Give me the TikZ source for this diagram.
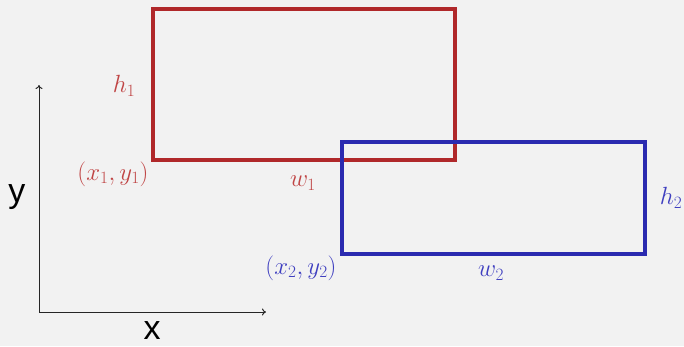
\documentclass[tikz,border=0pt]{standalone}
\usepackage{fontspec}
\usetikzlibrary{arrows.meta}
\newfontfamily\axisfont{Liberation Sans}
\definecolor{bg}{HTML}{F2F2F2}
\definecolor{rline}{HTML}{B0282A}
\definecolor{rtext}{HTML}{C04545}
\definecolor{bline}{HTML}{2B2BB0}
\definecolor{btext}{HTML}{3F3FC0}
\begin{document}
\begin{tikzpicture}[x=1pt,y=-1pt,
  rectbox/.style={draw,line width=4pt,inner sep=0pt,outer sep=0pt},
  mlabel/.style={inner sep=0pt,font=\fontsize{23}{27}\selectfont},
  alabel/.style={inner sep=0pt,font=\axisfont\fontsize{34}{40}\selectfont},
  axis/.style={line width=1pt,draw=black!85,-{To[length=4pt,width=7pt]}}]
\fill[bg] (0,0) rectangle (684,346);
\useasboundingbox (0,0) rectangle (684,346);
% rectangles
\node[rectbox,draw=rline,minimum width=302pt,minimum height=151pt] (r1) at (304,84.5) {};
\node[rectbox,draw=bline,minimum width=303pt,minimum height=112pt] (r2) at (493.5,198) {};
% axes
\coordinate (o) at (39,312);
\coordinate (ytip) at (39,85);
\coordinate (xtip) at (266,312);
\draw[axis] (o) -- (ytip);
\draw[axis] (o) -- (xtip);
\node[alabel] (ylab) at (17,197) {y};
\node[alabel] (xlab) at (152,331) {x};
% labels
\node[mlabel,text=rtext] (h1) at (124,86) {$h_1$};
\node[mlabel,text=rtext] (p1) at (113,174) {$(x_1,y_1)$};
\node[mlabel,text=rtext] (w1) at (303,183) {$w_1$};
\node[mlabel,text=btext] (p2) at (301,268) {$(x_2,y_2)$};
\node[mlabel,text=btext] (w2) at (491,273) {$w_2$};
\node[mlabel,text=btext] (h2) at (671,198) {$h_2$};
\end{tikzpicture}
\end{document}
